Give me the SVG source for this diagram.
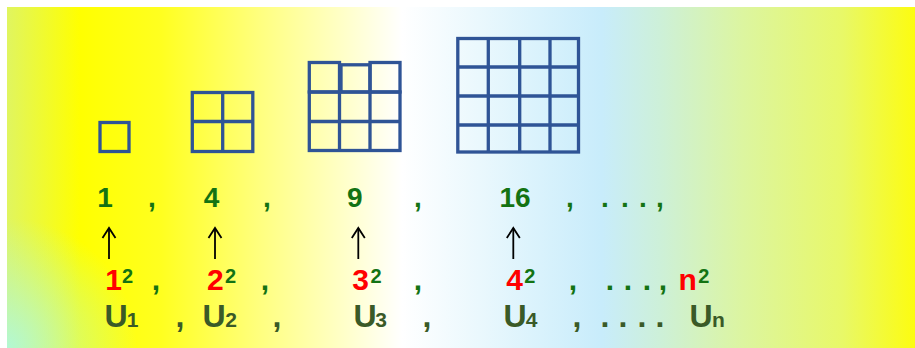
<svg xmlns="http://www.w3.org/2000/svg" width="915" height="348" viewBox="0 0 915 348">
<style>
.sq{fill:none;stroke:#2f5496;stroke-width:3.3}
.t{font-family:"Liberation Sans",Arial,sans-serif;font-weight:bold;text-anchor:middle}
.g{fill:#137313;font-size:28px}
.r{fill:#ff0000;font-size:30px}
.gs{fill:#137313;font-size:20px}
.rc{fill:#137313;font-size:30px}
.u{fill:#3a5a27;font-size:32px}
.us{fill:#3a5a27;font-size:21px}
.arr{stroke:#000;stroke-width:1.8;fill:none}
</style>
<defs>
<linearGradient id="bg" gradientUnits="userSpaceOnUse" x1="7" y1="0" x2="915" y2="0">
<stop offset="0" stop-color="#e0f560"/>
<stop offset="0.08" stop-color="#ffff00"/>
<stop offset="0.17" stop-color="#ffff20"/>
<stop offset="0.28" stop-color="#ffff80"/>
<stop offset="0.37" stop-color="#ffffc8"/>
<stop offset="0.435" stop-color="#ffffff"/>
<stop offset="0.52" stop-color="#eaf8fd"/>
<stop offset="0.655" stop-color="#c8ecfb"/>
<stop offset="0.72" stop-color="#cdf0d8"/>
<stop offset="0.81" stop-color="#dcf5a0"/>
<stop offset="0.92" stop-color="#e8f868"/>
<stop offset="1" stop-color="#fcfc10"/>
</linearGradient>
<radialGradient id="bl" gradientUnits="userSpaceOnUse" cx="7" cy="348" r="130">
<stop offset="0" stop-color="#aef8e0" stop-opacity="0.9"/>
<stop offset="1" stop-color="#aef8e0" stop-opacity="0"/>
</radialGradient>
<marker id="ah" viewBox="-12 -8 14 16" refX="0" refY="0" markerWidth="14" markerHeight="16" markerUnits="userSpaceOnUse" orient="auto">
<path d="M-10,-6.5 L0,0 L-10,6.5" fill="none" stroke="#000" stroke-width="1.8"/>
</marker>
</defs>
<rect x="0" y="0" width="915" height="348" fill="#ffffff"/>
<rect x="7" y="7" width="908" height="341" fill="url(#bg)"/>
<rect x="7" y="7" width="908" height="341" fill="url(#bl)"/>

<g id="square1">
<rect class="sq" x="100" y="122.5" width="29" height="29"/>
</g>
<g id="square4">
<rect class="sq" x="192.3" y="92.5" width="60.5" height="59"/>
<path class="sq" d="M222.7,92.5V151.5M192.3,121.5H252.8"/>
</g>
<g id="square9">
<rect class="sq" x="309.3" y="62.5" width="30.2" height="29.5"/>
<rect class="sq" x="341" y="64.8" width="29" height="27.2"/>
<rect class="sq" x="370" y="62.5" width="30" height="29.5"/>
<rect class="sq" x="309.3" y="92" width="90.7" height="58.5"/>
<path class="sq" d="M339.5,92V150.5M370,92V150.5M309.3,121.5H400"/>
</g>
<g id="square16">
<rect class="sq" x="457.8" y="38.5" width="120.7" height="113.5"/>
<path class="sq" d="M488.3,38.5V152M519.7,38.5V152M550,38.5V152M457.8,67H578.5M457.8,96H578.5M457.8,125H578.5"/>
</g>

<g id="row-values">
<text class="t g" x="105" y="206.5">1</text>
<text class="t g" x="152" y="206.5">,</text>
<text class="t g" x="211.5" y="206.5">4</text>
<text class="t g" x="267" y="206.5">,</text>
<text class="t g" x="354.7" y="206.5">9</text>
<text class="t g" x="418" y="206.5">,</text>
<text class="t g" x="515" y="206.5">16</text>
<text class="t g" x="570" y="206.5">,</text>
<text class="t g" x="605" y="206.5">.</text>
<text class="t g" x="625" y="206.5">.</text>
<text class="t g" x="643" y="206.5">.</text>
<text class="t g" x="660" y="206.5">,</text>
</g>

<g id="row-squares">
<text class="t r" x="113.5" y="290">1</text>
<text class="t gs" x="127.5" y="283.3">2</text>
<text class="t rc" x="156" y="290">,</text>
<text class="t r" x="215.3" y="290">2</text>
<text class="t gs" x="230.5" y="283.3">2</text>
<text class="t rc" x="265" y="290">,</text>
<text class="t r" x="360.7" y="290">3</text>
<text class="t gs" x="376" y="283.3">2</text>
<text class="t rc" x="418" y="290">,</text>
<text class="t r" x="514.7" y="290">4</text>
<text class="t gs" x="529.7" y="283.3">2</text>
<text class="t rc" x="573" y="290">,</text>
<text class="t rc" x="610" y="290">.</text>
<text class="t rc" x="628" y="290">.</text>
<text class="t rc" x="647" y="290">.</text>
<text class="t rc" x="663" y="290">,</text>
<text class="t r" x="687.7" y="290">n</text>
<text class="t gs" x="703.7" y="283.3">2</text>
</g>

<g id="row-terms">
<text class="t u" x="116" y="327">U</text>
<text class="t us" x="132.5" y="327">1</text>
<text class="t u" x="180" y="327">,</text>
<text class="t u" x="214" y="327">U</text>
<text class="t us" x="231" y="327">2</text>
<text class="t u" x="277" y="327">,</text>
<text class="t u" x="365" y="327">U</text>
<text class="t us" x="381" y="327">3</text>
<text class="t u" x="427" y="327">,</text>
<text class="t u" x="515" y="327">U</text>
<text class="t us" x="531.5" y="327">4</text>
<text class="t u" x="577" y="327">,</text>
<text class="t u" x="605" y="327">.</text>
<text class="t u" x="623" y="327">.</text>
<text class="t u" x="642" y="327">.</text>
<text class="t u" x="660" y="327">.</text>
<text class="t u" x="701" y="327">U</text>
<text class="t us" x="718.3" y="327">n</text>
</g>

<g id="connectors">
<path class="arr" d="M109,259V228" marker-end="url(#ah)"/>
<path class="arr" d="M215,259V228" marker-end="url(#ah)"/>
<path class="arr" d="M358.3,259V228" marker-end="url(#ah)"/>
<path class="arr" d="M513.3,259V228" marker-end="url(#ah)"/>
</g>
</svg>
